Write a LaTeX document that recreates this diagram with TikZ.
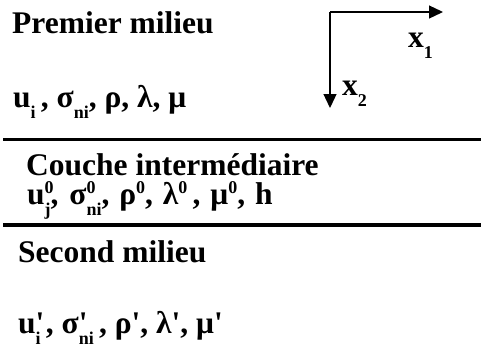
\documentclass[tikz,border=0pt]{standalone}
\usepackage{fontspec}
\newfontfamily\layerfont{Liberation Serif}
\usetikzlibrary{arrows.meta,positioning}
\newcommand{\lowidx}[1]{\raisebox{-11pt}{\fontsize{18}{18}\selectfont #1}}
\newcommand{\highidx}[1]{\raisebox{11pt}{\fontsize{18}{18}\selectfont #1}}
\newcommand{\bothidx}[2]{\rlap{\highidx{#1}}\lowidx{#2}}

\begin{document}
\begin{tikzpicture}[
    x=1pt,y=-1pt,
    txt/.style={anchor=base west,inner sep=0pt,font=\fontsize{31.5}{36}\layerfont\bfseries},
    axis/.style={-{Triangle[length=14pt,width=13pt]},line width=1.3pt},
    interface/.style={line width=3.5pt}
  ]
    \useasboundingbox (0,0) rectangle (481,349);
    % premier milieu
    \node[txt] (first) at (12,33) {Premier milieu};
    \node[txt] (firstvars) at (13,107) {u\lowidx{i}\,, σ\lowidx{ni}, ρ, λ, μ};

    % axes
    \coordinate (origin) at (330,12);
    \coordinate (xend) at (443,12);
    \coordinate (yend) at (330,108);
    \draw[axis] (origin) -- (xend);
    \draw[axis] (origin) -- (yend);
    \node[txt] (xone) at (408,47) {x\lowidx{1}};
    \node[txt] (xtwo) at (342,95) {x\lowidx{2}};

    % interfaces
    \coordinate (topleft) at (3,139.5);
    \coordinate (topright) at (481,139.5);
    \coordinate (botleft) at (3,225);
    \coordinate (botright) at (481,225);
    \draw[interface] (topleft) -- (topright);
    \draw[interface] (botleft) -- (botright);

    % couche
    \node[txt] (layer) at (26,175) {Couche intermédiaire};
    \node[txt] (layervars) at (27,204) {u\bothidx{0}{j},\hspace{3pt} σ\bothidx{0}{ni},\hspace{2pt} ρ\highidx{0},\hspace{2pt} λ\highidx{0}\,,\hspace{2pt} μ\highidx{0},\hspace{2pt} h};

    % second milieu
    \node[txt] (second) at (18,262) {Second milieu};
    \node[txt] (secondvars) at (18,333) {u\bothidx{\fontsize{31.5}{36}\selectfont\raisebox{-11pt}{'}}{i}\,, σ\bothidx{\fontsize{31.5}{36}\selectfont\raisebox{-11pt}{'}}{ni}\,, ρ', λ', μ'};
  \end{tikzpicture}
\end{document}
